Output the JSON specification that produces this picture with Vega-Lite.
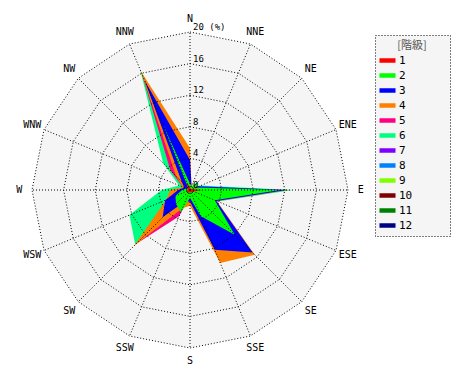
{
  "$schema": "https://vega.github.io/schema/vega-lite/v6.json",
  "width": 470,
  "height": 380,
  "autosize": "none",
  "padding": 0,
  "background": "white",
  "config": {"view": {"stroke": null}},
  "datasets": {
    "dirs": [
      {"d": "N", "a": 0, "r": [0, 4, 8, 12, 16, 20]},
      {"d": "NNE", "a": 22.5, "r": [0, 4, 8, 12, 16, 20]},
      {"d": "NE", "a": 45, "r": [0, 4, 8, 12, 16, 20]},
      {"d": "ENE", "a": 67.5, "r": [0, 4, 8, 12, 16, 20]},
      {"d": "E", "a": 90, "r": [0, 4, 8, 12, 16, 20]},
      {"d": "ESE", "a": 112.5, "r": [0, 4, 8, 12, 16, 20]},
      {"d": "SE", "a": 135, "r": [0, 4, 8, 12, 16, 20]},
      {"d": "SSE", "a": 157.5, "r": [0, 4, 8, 12, 16, 20]},
      {"d": "S", "a": 180, "r": [0, 4, 8, 12, 16, 20]},
      {"d": "SSW", "a": 202.5, "r": [0, 4, 8, 12, 16, 20]},
      {"d": "SW", "a": 225, "r": [0, 4, 8, 12, 16, 20]},
      {"d": "WSW", "a": 247.5, "r": [0, 4, 8, 12, 16, 20]},
      {"d": "W", "a": 270, "r": [0, 4, 8, 12, 16, 20]},
      {"d": "WNW", "a": 292.5, "r": [0, 4, 8, 12, 16, 20]},
      {"d": "NW", "a": 315, "r": [0, 4, 8, 12, 16, 20]},
      {"d": "NNW", "a": 337.5, "r": [0, 4, 8, 12, 16, 20]}
    ],
    "rings": [
      {"r": 0, "t": "0"},
      {"r": 4, "t": "4"},
      {"r": 8, "t": "8"},
      {"r": 12, "t": "12"},
      {"r": 16, "t": "16"},
      {"r": 20, "t": "20 (%)"}
    ],
    "wind": [
      {"c": "6", "d": "N", "v": 0.5}, {"c": "6", "d": "NNE", "v": 0.3}, {"c": "6", "d": "NE", "v": 0.3}, {"c": "6", "d": "ENE", "v": 1.5},
      {"c": "6", "d": "E", "v": 13.0}, {"c": "6", "d": "ESE", "v": 3.8}, {"c": "6", "d": "SE", "v": 1.5}, {"c": "6", "d": "SSE", "v": 1.0},
      {"c": "6", "d": "S", "v": 0.8}, {"c": "6", "d": "SSW", "v": 1.5}, {"c": "6", "d": "SW", "v": 9.8}, {"c": "6", "d": "WSW", "v": 8.3},
      {"c": "6", "d": "W", "v": 3.6}, {"c": "6", "d": "WNW", "v": 1.5}, {"c": "6", "d": "NW", "v": 4.8}, {"c": "6", "d": "NNW", "v": 16.5},
      {"c": "5", "d": "N", "v": 0.5}, {"c": "5", "d": "NNE", "v": 0.2}, {"c": "5", "d": "NE", "v": 0.2}, {"c": "5", "d": "ENE", "v": 0.3},
      {"c": "5", "d": "E", "v": 0.8}, {"c": "5", "d": "ESE", "v": 0.5}, {"c": "5", "d": "SE", "v": 0.5}, {"c": "5", "d": "SSE", "v": 0.5},
      {"c": "5", "d": "S", "v": 0.8}, {"c": "5", "d": "SSW", "v": 3.6}, {"c": "5", "d": "SW", "v": 9.6}, {"c": "5", "d": "WSW", "v": 2.5},
      {"c": "5", "d": "W", "v": 1.0}, {"c": "5", "d": "WNW", "v": 1.0}, {"c": "5", "d": "NW", "v": 3.5}, {"c": "5", "d": "NNW", "v": 16.0},
      {"c": "4", "d": "N", "v": 5.3}, {"c": "4", "d": "NNE", "v": 0.5}, {"c": "4", "d": "NE", "v": 0.4}, {"c": "4", "d": "ENE", "v": 1.0},
      {"c": "4", "d": "E", "v": 12.5}, {"c": "4", "d": "ESE", "v": 3.7}, {"c": "4", "d": "SE", "v": 11.6}, {"c": "4", "d": "SSE", "v": 10.0},
      {"c": "4", "d": "S", "v": 2.0}, {"c": "4", "d": "SSW", "v": 2.5}, {"c": "4", "d": "SW", "v": 10.0}, {"c": "4", "d": "WSW", "v": 3.3},
      {"c": "4", "d": "W", "v": 2.5}, {"c": "4", "d": "WNW", "v": 1.0}, {"c": "4", "d": "NW", "v": 2.5}, {"c": "4", "d": "NNW", "v": 16.3},
      {"c": "3", "d": "N", "v": 3.8}, {"c": "3", "d": "NNE", "v": 0.5}, {"c": "3", "d": "NE", "v": 0.5}, {"c": "3", "d": "ENE", "v": 1.2},
      {"c": "3", "d": "E", "v": 12.2}, {"c": "3", "d": "ESE", "v": 3.6}, {"c": "3", "d": "SE", "v": 11.2}, {"c": "3", "d": "SSE", "v": 8.2},
      {"c": "3", "d": "S", "v": 1.5}, {"c": "3", "d": "SSW", "v": 1.5}, {"c": "3", "d": "SW", "v": 4.9}, {"c": "3", "d": "WSW", "v": 3.4},
      {"c": "3", "d": "W", "v": 1.5}, {"c": "3", "d": "WNW", "v": 0.8}, {"c": "3", "d": "NW", "v": 1.5}, {"c": "3", "d": "NNW", "v": 15.0},
      {"c": "2", "d": "N", "v": 0.8}, {"c": "2", "d": "NNE", "v": 0.5}, {"c": "2", "d": "NE", "v": 1.5}, {"c": "2", "d": "ENE", "v": 0.8},
      {"c": "2", "d": "E", "v": 11.4}, {"c": "2", "d": "ESE", "v": 3.4}, {"c": "2", "d": "SE", "v": 8.0}, {"c": "2", "d": "SSE", "v": 3.6},
      {"c": "2", "d": "S", "v": 1.0}, {"c": "2", "d": "SSW", "v": 3.0}, {"c": "2", "d": "SW", "v": 2.5}, {"c": "2", "d": "WSW", "v": 2.0},
      {"c": "2", "d": "W", "v": 1.0}, {"c": "2", "d": "WNW", "v": 0.5}, {"c": "2", "d": "NW", "v": 0.3}, {"c": "2", "d": "NNW", "v": 9.0},
      {"c": "1", "d": "N", "v": 0.3}, {"c": "1", "d": "NNE", "v": 0.2}, {"c": "1", "d": "NE", "v": 0.2}, {"c": "1", "d": "ENE", "v": 0.3},
      {"c": "1", "d": "E", "v": 1.5}, {"c": "1", "d": "ESE", "v": 0.5}, {"c": "1", "d": "SE", "v": 0.4}, {"c": "1", "d": "SSE", "v": 0.3},
      {"c": "1", "d": "S", "v": 0.3}, {"c": "1", "d": "SSW", "v": 0.3}, {"c": "1", "d": "SW", "v": 0.5}, {"c": "1", "d": "WSW", "v": 0.4},
      {"c": "1", "d": "W", "v": 0.3}, {"c": "1", "d": "WNW", "v": 0.3}, {"c": "1", "d": "NW", "v": 0.5}, {"c": "1", "d": "NNW", "v": 1.0}
    ]
  },
  "layer": [
    {
      "data": {"name": "dirs"},
      "transform": [
        {"flatten": ["r"]},
        {"filter": "datum.r == 20"},
        {"calculate": "datum.r * sin(datum.a * PI / 180)", "as": "x"},
        {"calculate": "datum.r * cos(datum.a * PI / 180)", "as": "y"}
      ],
      "mark": {"type": "line", "filled": true, "interpolate": "linear-closed", "fill": "#f5f5f5", "strokeWidth": 0},
      "encoding": {
        "x": {"field": "x", "type": "quantitative", "scale": {"domain": [-24.05, 35.44], "nice": false, "zero": false}, "axis": null},
        "y": {"field": "y", "type": "quantitative", "scale": {"domain": [-24.05, 24.05], "nice": false, "zero": false}, "axis": null},
        "order": {"field": "a", "type": "quantitative"}
      }
    },
    {
      "data": {"name": "wind"},
      "transform": [
        {"lookup": "d", "from": {"data": {"name": "dirs"}, "key": "d", "fields": ["a"]}},
        {"calculate": "datum.v * sin(datum.a * PI / 180)", "as": "x"},
        {"calculate": "datum.v * cos(datum.a * PI / 180)", "as": "y"}
      ],
      "encoding": {
        "x": {"field": "x", "type": "quantitative", "scale": {"domain": [-24.05, 35.44], "nice": false, "zero": false}, "axis": null},
        "y": {"field": "y", "type": "quantitative", "scale": {"domain": [-24.05, 24.05], "nice": false, "zero": false}, "axis": null},
        "order": {"field": "a", "type": "quantitative"},
        "color": {
          "field": "c", "type": "nominal",
          "scale": {
            "domain": ["1", "2", "3", "4", "5", "6", "7", "8", "9", "10", "11", "12"],
            "range": ["#ff0000", "#00ff00", "#0000ff", "#ff8000", "#ff0080", "#00ff80", "#8000ff", "#0080ff", "#80ff00", "#800000", "#008000", "#000080"]
          },
          "legend": {
            "title": "[階級]",
            "orient": "none",
            "legendX": 375,
            "legendY": 35,
            "padding": 5,
            "fillColor": "#f5f5f5",
            "strokeColor": "#000000",
            "titleFont": "Noto Sans CJK JP",
            "titleFontSize": 11,
            "titleFontWeight": "normal",
            "titleColor": "#555555",
            "titleAnchor": "middle",
            "titlePadding": 2,
            "labelFont": "DejaVu Sans Mono",
            "labelFontSize": 11,
            "labelColor": "#000000",
            "labelOffset": 4,
            "labelExpr": "datum.label + '\u2800\u2800\u2800\u2800'",
            "symbolType": "M-1.07,-0.3H1.07V0.3H-1.07Z",
            "symbolSize": 225,
            "symbolStrokeWidth": 0,
            "symbolOpacity": 1,
            "rowPadding": 2,
            "encode": {"legend": {"update": {"strokeDash": {"value": [1, 2]}}}}
          }
        }
      },
      "layer": [
        {"transform": [{"filter": "datum.c == '6'"}], "mark": {"type": "line", "filled": true, "interpolate": "linear-closed", "strokeWidth": 0}},
        {"transform": [{"filter": "datum.c == '5'"}], "mark": {"type": "line", "filled": true, "interpolate": "linear-closed", "strokeWidth": 0}},
        {"transform": [{"filter": "datum.c == '4'"}], "mark": {"type": "line", "filled": true, "interpolate": "linear-closed", "strokeWidth": 0}},
        {"transform": [{"filter": "datum.c == '3'"}], "mark": {"type": "line", "filled": true, "interpolate": "linear-closed", "strokeWidth": 0}},
        {"transform": [{"filter": "datum.c == '2'"}], "mark": {"type": "line", "filled": true, "interpolate": "linear-closed", "strokeWidth": 0}},
        {"transform": [{"filter": "datum.c == '1'"}], "mark": {"type": "line", "filled": true, "interpolate": "linear-closed", "strokeWidth": 0}}
      ]
    },
    {
      "data": {"name": "dirs"},
      "transform": [
        {"flatten": ["r"]},
        {"filter": "datum.r > 0"},
        {"calculate": "datum.r * sin(datum.a * PI / 180)", "as": "x"},
        {"calculate": "datum.r * cos(datum.a * PI / 180)", "as": "y"}
      ],
      "mark": {"type": "line", "interpolate": "linear-closed", "stroke": "#000000", "strokeWidth": 1, "strokeDash": [1, 2]},
      "encoding": {
        "x": {"field": "x", "type": "quantitative", "scale": {"domain": [-24.05, 35.44], "nice": false, "zero": false}, "axis": null},
        "y": {"field": "y", "type": "quantitative", "scale": {"domain": [-24.05, 24.05], "nice": false, "zero": false}, "axis": null},
        "detail": {"field": "r", "type": "nominal"},
        "order": {"field": "a", "type": "quantitative"}
      }
    },
    {
      "data": {"name": "dirs"},
      "transform": [
        {"flatten": ["r"]},
        {"calculate": "datum.r * sin(datum.a * PI / 180)", "as": "x"},
        {"calculate": "datum.r * cos(datum.a * PI / 180)", "as": "y"}
      ],
      "mark": {"type": "line", "stroke": "#000000", "strokeWidth": 1, "strokeDash": [1, 2]},
      "encoding": {
        "x": {"field": "x", "type": "quantitative", "scale": {"domain": [-24.05, 35.44], "nice": false, "zero": false}, "axis": null},
        "y": {"field": "y", "type": "quantitative", "scale": {"domain": [-24.05, 24.05], "nice": false, "zero": false}, "axis": null},
        "detail": {"field": "d", "type": "nominal"},
        "order": {"field": "r", "type": "quantitative"}
      }
    },
    {
      "data": {"name": "rings"},
      "mark": {"type": "text", "align": "left", "baseline": "middle", "dx": 3, "dy": -5, "font": "DejaVu Sans Mono", "fontSize": 9, "fill": "#000000"},
      "encoding": {
        "x": {"datum": 0, "type": "quantitative", "scale": {"domain": [-24.05, 35.44], "nice": false, "zero": false}, "axis": null},
        "y": {"field": "r", "type": "quantitative", "scale": {"domain": [-24.05, 24.05], "nice": false, "zero": false}, "axis": null},
        "text": {"field": "t", "type": "nominal"}
      }
    },
    {
      "data": {"name": "dirs"},
      "transform": [
        {"calculate": "21.6 * sin(datum.a * PI / 180)", "as": "x"},
        {"calculate": "21.6 * cos(datum.a * PI / 180)", "as": "y"}
      ],
      "mark": {"type": "text", "align": "center", "baseline": "middle", "font": "DejaVu Sans Mono", "fontSize": 10, "fill": "#000000"},
      "encoding": {
        "x": {"field": "x", "type": "quantitative", "scale": {"domain": [-24.05, 35.44], "nice": false, "zero": false}, "axis": null},
        "y": {"field": "y", "type": "quantitative", "scale": {"domain": [-24.05, 24.05], "nice": false, "zero": false}, "axis": null},
        "text": {"field": "d", "type": "nominal"}
      }
    }
  ]
}
